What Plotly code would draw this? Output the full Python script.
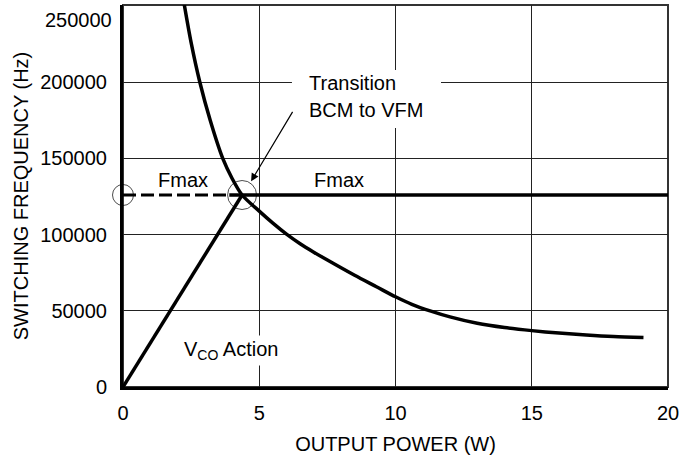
import plotly.graph_objects as go

# ---- data ----
power_curve = [2.2, 2.5, 2.82, 3.2, 3.66, 4.0, 4.37, 5.0, 5.5, 6.0, 6.5, 7.0, 7.5, 8.5, 9.3,
               10.0, 10.6, 11.3, 12.0, 13.0, 14.0, 15.0, 16.0, 17.0, 18.0, 19.1]
freq_curve = [256000, 226000, 200000, 175000, 150000, 137000, 126000, 115400, 107500, 100300,
              94000, 88500, 83300, 73300, 65800, 59200, 54300, 49800, 46000, 41800, 39000,
              37000, 35400, 34100, 33100, 32500]

vco_power = [0, 4.37]
vco_freq = [0, 126000]

fmax_dash_power = [0, 3.9]
fmax_dash_freq = [126000, 126000]
fmax_solid_power = [3.9, 20]
fmax_solid_freq = [126000, 126000]

circle_power = [0, 4.37]
circle_freq = [126000, 126000]
circle_sizes = [21, 29]

x_tickvals = [0, 5, 10, 15, 20]
x_ticktext = ["0", "5", "10", "15", "20"]
y_tickvals = [0, 50000, 100000, 150000, 200000]
y_ticktext = ["0", "50000", "100000", "150000", "200000"]
y_top_label = "250000"

FONT = "Liberation Sans, Arial, Helvetica, sans-serif"

fig = go.Figure()

fig.add_trace(go.Scatter(x=power_curve, y=freq_curve, mode="lines",
                         line=dict(color="black", width=3.5, shape="spline", smoothing=0.8),
                         hoverinfo="skip"))
fig.add_trace(go.Scatter(x=vco_power, y=vco_freq, mode="lines",
                         line=dict(color="black", width=3.5), hoverinfo="skip"))
fig.add_trace(go.Scatter(x=fmax_dash_power, y=fmax_dash_freq, mode="lines",
                         line=dict(color="black", width=3, dash="13px,5px"), hoverinfo="skip"))
fig.add_trace(go.Scatter(x=fmax_solid_power, y=fmax_solid_freq, mode="lines",
                         line=dict(color="black", width=3.5), hoverinfo="skip"))
fig.add_trace(go.Scatter(x=circle_power, y=circle_freq, mode="markers",
                         marker=dict(symbol="circle-open", size=circle_sizes, color="black",
                                     line=dict(width=1, color="black")),
                         cliponaxis=False, hoverinfo="skip"))

shapes = [
    dict(type="rect", xref="paper", yref="paper", x0=0, x1=1, y0=0, y1=1,
         line=dict(color="#333", width=2), fillcolor="rgba(0,0,0,0)", layer="below"),
    dict(type="rect", xref="x", yref="y", x0=6.2, x1=11.67, y0=170000, y1=208000,
         line=dict(width=0), fillcolor="white", layer="between"),
]

annotations = [
    dict(x=2.2, y=136100, text="Fmax", showarrow=False, font=dict(size=20, family=FONT, color="black")),
    dict(x=7.92, y=136100, text="Fmax", showarrow=False, font=dict(size=20, family=FONT, color="black")),
    dict(x=6.75, y=199700, text="Transition", showarrow=False, xanchor="left",
         font=dict(size=20, family=FONT, color="black")),
    dict(x=6.75, y=182000, text="BCM to VFM", showarrow=False, xanchor="left",
         font=dict(size=20, family=FONT, color="black")),
    dict(x=3.95, y=23900, text="V<sub>CO</sub> Action", showarrow=False, bgcolor="white",
         borderpad=2, font=dict(size=20, family=FONT, color="black")),
    dict(x=4.70, y=135000, text=" ", showarrow=True, ax=46, ay=-77, axref="pixel", ayref="pixel",
         arrowhead=2, arrowsize=1.3, arrowwidth=1.2, arrowcolor="black"),
    dict(xref="paper", yref="y", x=0, xanchor="right", xshift=-9, y=240700, text=y_top_label,
         showarrow=False, font=dict(size=20, family=FONT, color="black")),
]

fig.update_layout(
    width=684, height=457,
    margin=dict(l=123, r=12, t=5, b=69),
    paper_bgcolor="white", plot_bgcolor="white",
    showlegend=False,
    font=dict(family=FONT, size=20, color="black"),
    shapes=shapes, annotations=annotations,
)
fig.update_xaxes(range=[0, 20], tickvals=x_tickvals, ticktext=x_ticktext,
                 showgrid=True, gridcolor="#222", gridwidth=1, zeroline=False,
                 showline=True, linecolor="black", linewidth=3, mirror=False,
                 ticks="", ticklabelstandoff=6,
                 title=dict(text="OUTPUT POWER (W)", font=dict(size=20, family=FONT), standoff=14))
fig.update_yaxes(range=[0, 250700], tickvals=y_tickvals, ticktext=y_ticktext,
                 showgrid=True, gridcolor="#222", gridwidth=1, zeroline=False,
                 showline=True, linecolor="black", linewidth=3, mirror=False,
                 ticks="", ticklabelstandoff=9,
                 title=dict(text="SWITCHING FREQUENCY (Hz)", font=dict(size=20, family=FONT), standoff=7))

fig.write_html("out.html", config={"displayModeBar": False, "staticPlot": True},
               post_script="document.body.style.margin='0';document.body.style.overflow='hidden';")
